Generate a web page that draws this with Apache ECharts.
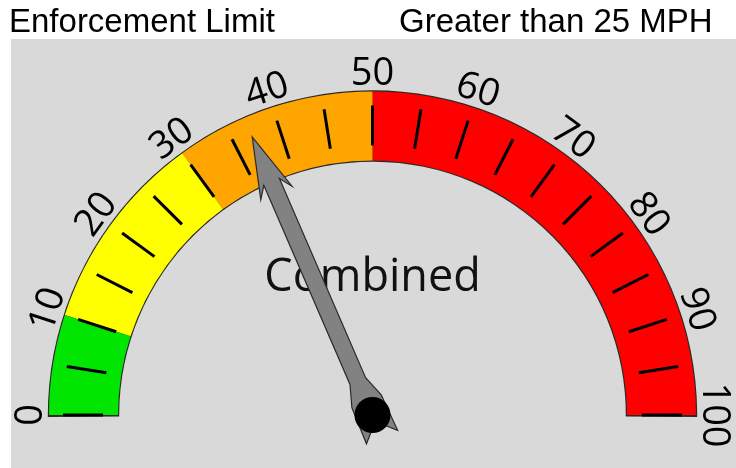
<!DOCTYPE html>
<html>
<head>
<meta charset="utf-8">
<script src="https://cdn.jsdelivr.net/npm/echarts@6/dist/echarts.min.js"></script>
<style>
  html, body { margin: 0; padding: 0; background: #fff; }
  #chart { width: 736px; height: 468px; }
</style>
</head>
<body>
<div id="chart"></div>
<script>
// values
var headings = ["Enforcement Limit", "Greater than 25 MPH"];
var gaugeName = "Combined";
var gaugeValue = 37;
var scaleMin = 0;
var scaleMax = 100;
var scaleSplits = 20;      // a tick every 5
var labelEvery = 10;       // numbers every 10
var bandStops = [0.1, 0.3, 0.5, 1];
var bandColors = ["#00e600", "#ffff00", "#ffa500", "#ff0000"];

// arrow with barbs at the tip and fletching at the tail
var pointerPath = "path://M17 0 L34 61 L25.5 49 L25.5 266 L33 288 L34 327 L17 310 L0 327 L1 288 L8.5 266 L8.5 49 L0 61 Z";

var cx = 372.5, cy = 415, R = 323.5, band = 69;

var chart = echarts.init(document.getElementById("chart"));

var bandColorList = bandStops.map(function (s, i) {
	return [s, bandColors[i]];
});

chart.setOption({
	animation: false,
	graphic: [{
		type: "rect",
		shape: { x: 11, y: 39, width: 725, height: 429 },
		style: { fill: "#d9d9d9" },
		z: -10
	}],
	title: [{
		text: headings[0],
		left: 4, top: 1,
		textStyle: { fontFamily: "Liberation Sans", fontWeight: "normal", fontSize: 33, color: "#000" }
	}, {
		text: headings[1],
		left: 394, top: 1,
		textStyle: { fontFamily: "Liberation Sans", fontWeight: "normal", fontSize: 33, color: "#000" }
	}],
	series: [{
		// thin dark outline around the band
		type: "gauge",
		center: [cx, cy],
		radius: R + 1.2,
		startAngle: 180.35,
		endAngle: -0.35,
		axisLine: { lineStyle: { width: band + 2.4, color: [[1, "#2a2a2a"]] } },
		axisTick: { show: false },
		splitLine: { show: false },
		axisLabel: { show: false },
		pointer: { show: false },
		anchor: { show: false },
		title: { show: false },
		detail: { show: false },
		data: []
	}, {
		type: "gauge",
		center: [cx, cy],
		radius: R,
		startAngle: 180.0001,
		endAngle: 0.0001,
		min: scaleMin,
		max: scaleMax,
		splitNumber: scaleSplits,
		axisLine: { lineStyle: { width: band, color: bandColorList } },
		axisTick: { show: false },
		splitLine: { length: 40, distance: -55, lineStyle: { color: "#000", width: 3 } },
		axisLabel: {
			distance: -2.5,
			rotate: "tangential",
			color: "#000",
			fontFamily: "Open Sans",
			fontSize: 38,
			formatter: function (v) {
				return Math.round(v) % labelEvery === 0 ? String(Math.round(v)) : "";
			}
		},
		pointer: {
			icon: pointerPath,
			length: 327,
			width: 34,
			offsetCenter: [0, 24],
			itemStyle: { color: "#828282", borderColor: "#2a2a2a", borderWidth: 1.2 }
		},
		anchor: {
			show: true,
			showAbove: true,
			size: 36,
			itemStyle: { color: "#000" }
		},
		title: {
			offsetCenter: [0, -137],
			fontFamily: "Open Sans",
			fontSize: 45,
			color: "#111"
		},
		detail: { show: false },
		data: [{ value: gaugeValue, name: gaugeName }]
	}]
});
</script>
</body>
</html>
